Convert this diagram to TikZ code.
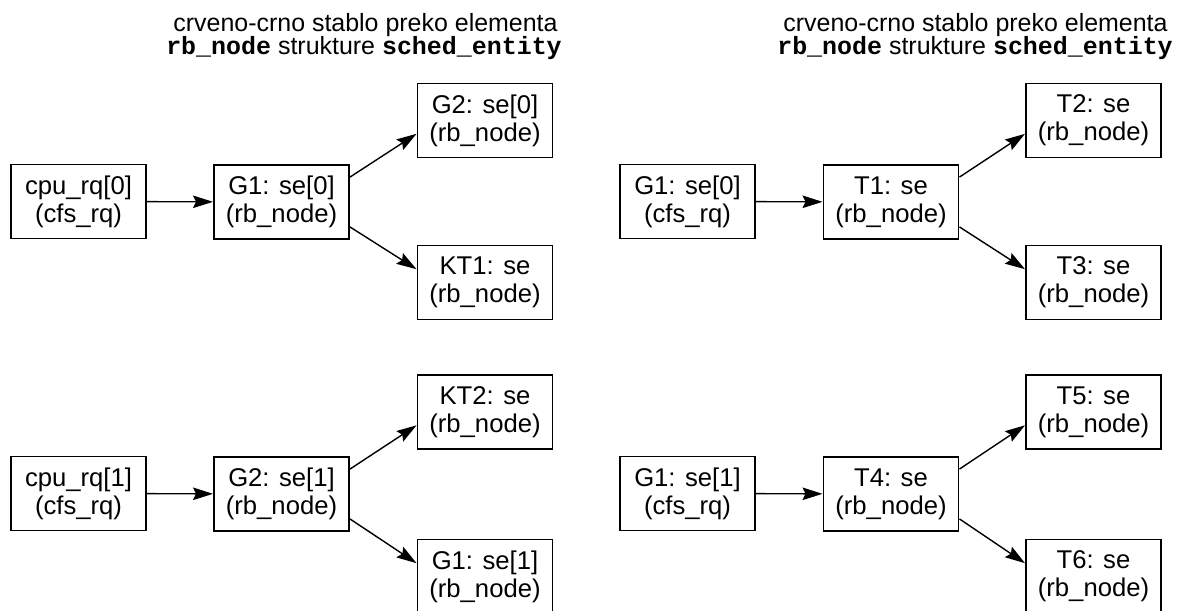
\documentclass[tikz,border=0pt]{standalone}
\usepackage{fontspec}
\setmainfont{Liberation Sans}
\setmonofont{Liberation Mono}
\usetikzlibrary{arrows.meta}

\begin{document}
\begin{tikzpicture}[
    box/.style={rectangle,draw,line width=1.1pt,minimum width=2.7cm,minimum height=1.48cm,inner sep=0pt,align=center,
      execute at begin node={\rule{0pt}{0.55cm}},font=\fontsize{14.6pt}{15.9pt}\selectfont},
    arr/.style={-{Stealth[length=0.4cm,width=0.25cm,inset=0.06cm]},line width=0.8pt},
    ttl/.style={anchor=base,inner sep=0pt,font=\fontsize{14.2pt}{15.9pt}\selectfont}]
\useasboundingbox (0,0) rectangle (23.64,-12.2);
\node[ttl] (t1) at (7.31,-0.634) {crveno-crno stablo preko elementa};
\node[ttl] (t2) at (7.28,-1.08) {\textbf{\ttfamily rb\_node} strukture \textbf{\ttfamily sched\_entity}};
\node[ttl] (t3) at (19.51,-0.634) {crveno-crno stablo preko elementa};
\node[ttl] (t4) at (19.50,-1.08) {\textbf{\ttfamily rb\_node} strukture \textbf{\ttfamily sched\_entity}};
\node[box] (cpu0) at (1.57,-4.03) {cpu\_rq[0]\\(cfs\_rq)};
\node[box] (g1a) at (5.63,-4.04) {G1: se[0]\\(rb\_node)};
\node[box] (g2a) at (9.70,-2.41) {G2: se[0]\\(rb\_node)};
\node[box] (kt1) at (9.70,-5.65) {KT1: se\\(rb\_node)};
\node[box] (cpu1) at (1.57,-9.87) {cpu\_rq[1]\\(cfs\_rq)};
\node[box] (g2b) at (5.63,-9.88) {G2: se[1]\\(rb\_node)};
\node[box] (kt2) at (9.70,-8.24) {KT2: se\\(rb\_node)};
\node[box] (g1b) at (9.70,-11.53) {G1: se[1]\\(rb\_node)};
\node[box] (cfs0) at (13.75,-4.03) {G1: se[0]\\(cfs\_rq)};
\node[box] (t1n) at (17.82,-4.04) {T1: se\\(rb\_node)};
\node[box] (t2n) at (21.87,-2.41) {T2: se\\(rb\_node)};
\node[box] (t3n) at (21.87,-5.65) {T3: se\\(rb\_node)};
\node[box] (cfs1) at (13.75,-9.87) {G1: se[1]\\(cfs\_rq)};
\node[box] (t4n) at (17.82,-9.88) {T4: se\\(rb\_node)};
\node[box] (t5n) at (21.87,-8.24) {T5: se\\(rb\_node)};
\node[box] (t6n) at (21.87,-11.53) {T6: se\\(rb\_node)};
\draw[arr] (cpu0) -- (g1a);
\draw[arr] (g1a.20) -- (g2a.191);
\draw[arr] (g1a.-20) -- (kt1.169);
\draw[arr] (cpu1) -- (g2b);
\draw[arr] (g2b.20) -- (kt2.191);
\draw[arr] (g2b.-20) -- (g1b.169);
\draw[arr] (cfs0) -- (t1n);
\draw[arr] (t1n.20) -- (t2n.191);
\draw[arr] (t1n.-20) -- (t3n.169);
\draw[arr] (cfs1) -- (t4n);
\draw[arr] (t4n.20) -- (t5n.191);
\draw[arr] (t4n.-20) -- (t6n.169);
\end{tikzpicture}
\end{document}
